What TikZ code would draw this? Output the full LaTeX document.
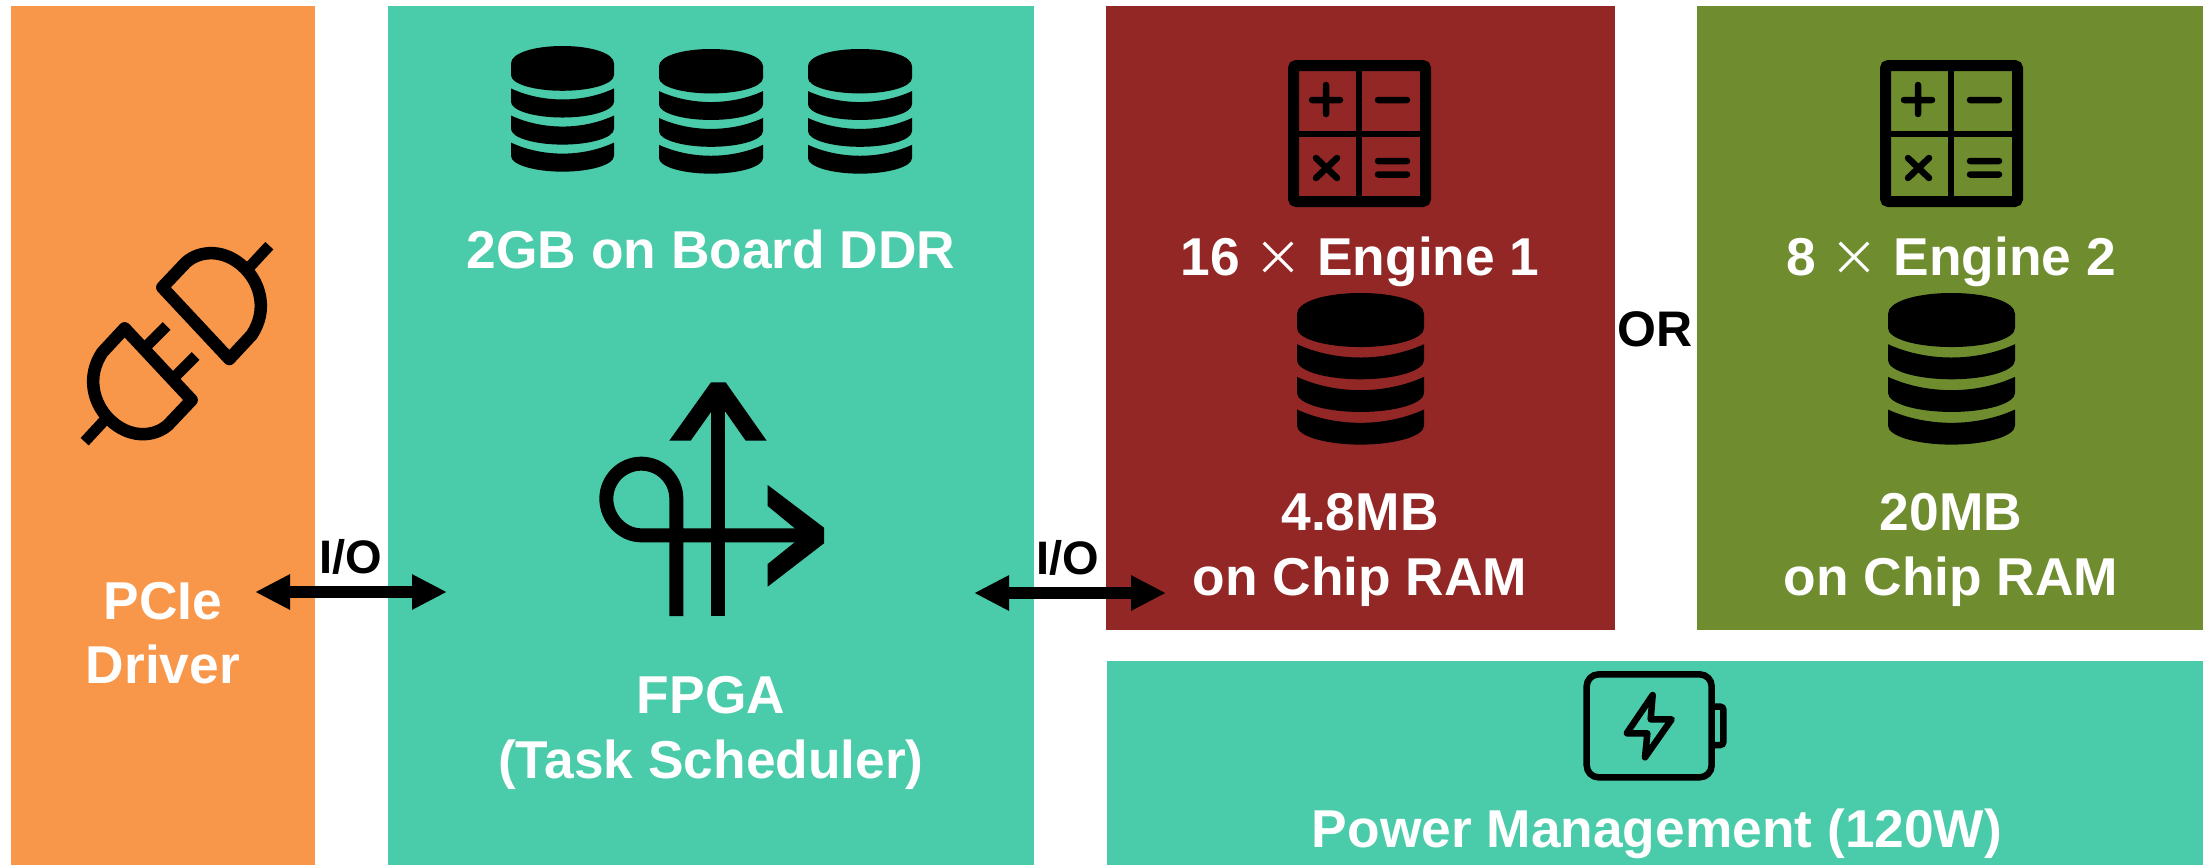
\documentclass[tikz,border=0pt]{standalone}
\usepackage{fontspec}
\setmainfont{Liberation Sans}
\newfontfamily\cjkx{Noto Sans CJK SC}
\usetikzlibrary{arrows.meta}
\definecolor{orangebox}{HTML}{F8964A}
\definecolor{tealbox}{HTML}{4ACBA9}
\definecolor{redbox}{HTML}{932726}
\definecolor{greenbox}{HTML}{6F8D2F}
\newcommand{\timesmark}{{\cjkx\mdseries\fontsize{48}{48}\selectfont ×}}
\newcommand{\dbicon}[4]{%
  \begin{scope}[shift={(#1,#2)},xscale=#3/311,yscale=#4/377]
    \fill[black] (0,52) .. controls (0,21) and (70,0) .. (155.5,0) .. controls (241,0) and (311,21) .. (311,52) -- (311,87) .. controls (311,114) and (241,134) .. (155.5,134) .. controls (70,134) and (0,114) .. (0,87) -- cycle;
    \foreach \k in {0,81,162}{
      \fill[black] (0,127+\k) .. controls (45,148+\k) and (100,160+\k) .. (155.5,160+\k) .. controls (211,160+\k) and (266,148+\k) .. (311,127+\k) -- (311,167+\k) .. controls (311,193+\k) and (241,214+\k) .. (155.5,214+\k) .. controls (70,214+\k) and (0,193+\k) .. (0,167+\k) -- cycle;
    }
  \end{scope}}
\newcommand{\calcicon}[1]{%
  \begin{scope}[shift={(#1,0)}]
    \draw[black,line width=11pt,rounded corners=3pt] (1293.5,65.5) rectangle (1425.5,201.5);
    \draw[black,line width=6.5pt] (1359,66) -- (1359,201) (1294,134) -- (1425,134);
    \draw[black,line width=6.5pt,line cap=round] (1312,100) -- (1340,100) (1326,85) -- (1326,114)
      (1378,100) -- (1407,100)
      (1316,158) -- (1337,178) (1337,158) -- (1316,178)
      (1378,161) -- (1407,161) (1378,174.5) -- (1407,174.5);
  \end{scope}}
\tikzset{
  panel/.style={anchor=north west,inner sep=0pt,outer sep=0pt,draw=none},
  wlabel/.style={text=white,font=\bfseries\fontsize{53.3}{64.6}\selectfont,align=center,inner sep=0pt},
  klabel/.style={text=black,font=\bfseries\fontsize{47}{50}\selectfont,inner sep=0pt},
  ioarrow/.style={black,line width=11.5pt,{Triangle[length=35pt,width=33pt]}-{Triangle[length=35pt,width=33pt]}}
}
\begin{document}
\begin{tikzpicture}[x=1pt,y=-1pt]
\useasboundingbox (0,0) rectangle (2203,865);
\node[panel,fill=orangebox,minimum width=304pt,minimum height=859pt] (pcie) at (11,6) {};
\node[panel,fill=tealbox,minimum width=646pt,minimum height=859pt] (fpga) at (388,6) {};
\node[panel,fill=redbox,minimum width=509pt,minimum height=624pt] (eng1) at (1106,6) {};
\node[panel,fill=greenbox,minimum width=506pt,minimum height=624pt] (eng2) at (1697,6) {};
\node[panel,fill=tealbox,minimum width=1096pt,minimum height=204pt] (power) at (1107,661) {};

% plug icon
\begin{scope}[shift={(0,200)},scale=0.33333]
  \draw[black,line width=12.5pt,line join=round] (487,262) -- (558,187) .. controls (600,150) and (675,145) .. (735,205) .. controls (780,250) and (805,330) .. (755,405) -- (688,477) -- cycle;
  \draw[black,line width=12.5pt,line join=round] (575,600) -- (504,675) .. controls (462,712) and (387,717) .. (327,657) .. controls (282,612) and (257,532) .. (307,457) -- (374,385) -- cycle;
  \draw[black,line width=11pt] (745,205) -- (808,137) (317,657) -- (254,725) (431,447) -- (500,378) (517,538) -- (587,468);
\end{scope}

% database icons
\dbicon{511}{46}{103}{126}
\dbicon{659}{49}{104}{125}
\dbicon{808}{49}{104}{125}
\dbicon{1297}{293}{127}{152}
\dbicon{1888}{293}{127}{152}

% routing icon
\begin{scope}[shift={(570,360)},scale=0.33333]
  \draw[black,line width=14pt] (445,768) -- (445,120);
  \fill[black] (423,67) -- (467,67) -- (590,242) -- (527,242) -- (445,125) -- (362,242) -- (298,242) -- cycle;
  \draw[black,line width=14pt] (319,768) -- (319,416) .. controls (319,358) and (272,311) .. (214,311) .. controls (156,311) and (109,358) .. (109,416) .. controls (109,474) and (156,526) .. (214,526) -- (700,526);
  \fill[black] (593,375) -- (762,503) -- (762,550) -- (593,680) -- (593,612) -- (700,526) -- (593,438) -- cycle;
\end{scope}

% calculators
\calcicon{0}
\calcicon{592}

% battery
\begin{scope}[shift={(1560,650)},scale=0.33333]
  \draw[black,line width=6.5pt,rounded corners=12pt] (80,73) rectangle (455,382);
  \draw[black,line width=6.5pt,rounded corners=3pt] (460,170) -- (490,170) -- (490,285) -- (460,285);
  \draw[black,line width=6.5pt,line join=round] (278,135) -- (200,250) -- (262,250) -- (255,322) -- (335,208) -- (272,208) -- cycle;
\end{scope}

% labels
\node[wlabel] (pcielabel) at (163,633) {PCIe\\Driver};
\node[wlabel] (ddrlabel) at (711,249) {2GB on Board DDR};
\node[wlabel] (fpgalabel) at (711,733) {FPGA\\(Task Scheduler)};
\node[wlabel] (eng1label) at (1360,262) {16 \timesmark\ Engine 1};
\node[wlabel] (ram1label) at (1360,550) {4.8MB\\on Chip RAM};
\node[wlabel] (eng2label) at (1951,262) {8 \timesmark\ Engine 2};
\node[wlabel] (ram2label) at (1951,550) {20MB\\on Chip RAM};
\node[wlabel] (powerlabel) at (1657,834) {Power Management (120W)};
\node[klabel,font=\bfseries\fontsize{50}{50}\selectfont] (orlabel) at (1655,329) {OR};
\node[klabel] (io1label) at (351,557) {I/O};
\node[klabel] (io2label) at (1068,558) {I/O};

% I/O arrows
\coordinate (a1l) at (255,592);
\coordinate (a1r) at (447,592);
\coordinate (a2l) at (974,593);
\coordinate (a2r) at (1166,593);
\draw[ioarrow] (a1l) -- (a1r);
\draw[ioarrow] (a2l) -- (a2r);
\end{tikzpicture}
\end{document}
